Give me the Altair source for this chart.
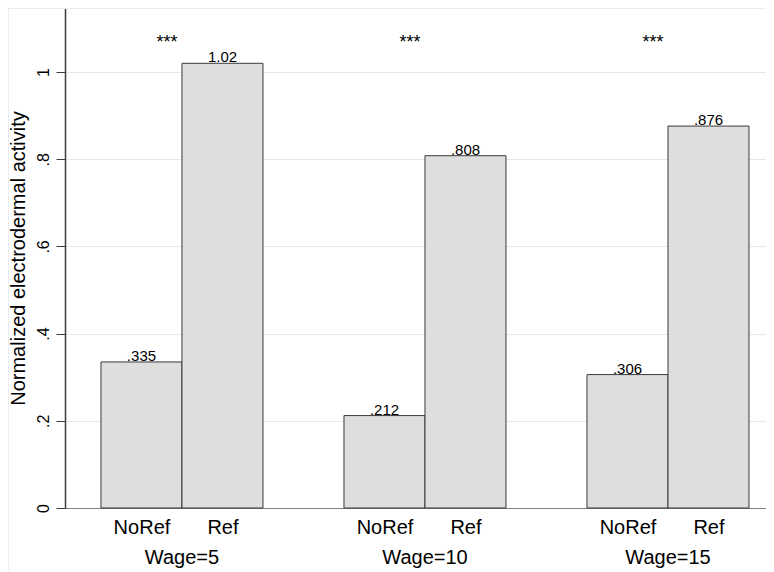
import altair as alt
import pandas as pd

# ---- data ----
groups = ["Wage=5", "Wage=10", "Wage=15"]
conditions = ["NoRef", "Ref"]
noref_values = [0.335, 0.212, 0.306]
ref_values = [1.02, 0.808, 0.876]
stars = ["***", "***", "***"]
y_ticks = [0, 0.2, 0.4, 0.6, 0.8, 1]
star_level = 1.055

# ---- tables built from the lists ----
rows = []
for g, gname in enumerate(groups):
    for s, (cond, vals) in enumerate(zip(conditions, [noref_values, ref_values])):
        pos = g * 3 + s
        rows.append(dict(group=gname, cond=cond, pos=pos, x0=pos - 0.5,
                         x1=pos + 0.5, value=vals[g]))
bars_df = pd.DataFrame(rows)
groups_df = pd.DataFrame(dict(group=groups,
                              gpos=[g * 3 + 0.5 for g in range(len(groups))],
                              stars=stars, level=[star_level] * len(groups)))
tick_positions = list(bars_df["pos"])

W, H = 701, 500
FONT = "Liberation Sans"
xscale = alt.Scale(domain=[-0.944, 7.71], nice=False, zero=False)
yscale = alt.Scale(domain=[0, 1.1468], nice=False, zero=True)

y_axis = alt.Axis(
    values=y_ticks,
    labelExpr="datum.value == 0 ? '0' : datum.value == 1 ? '1' : replace(format(datum.value, '.1f'), '0.', '.')",
    labelAngle=270, labelAlign="center", labelBaseline="bottom",
    labelFont=FONT, labelFontSize=16, labelColor="#000000", labelPadding=5,
    tickSize=9, tickColor="#3c3c3c", tickWidth=1,
    domainColor="#3c3c3c", domainWidth=1.5,
    grid=True, gridColor="#e3eaed", gridWidth=1,
    title="Normalized electrodermal activity", titleFont=FONT,
    titleFontSize=20, titleFontWeight="normal", titleColor="#000000",
    titleAngle=270, titleAlign="center", titleBaseline="middle",
    titleX=-47, titleY=250,
)

x_axis = alt.Axis(
    values=tick_positions,
    labelExpr="datum.value % 3 == 0 ? 'NoRef' : 'Ref'",
    labelOverlap=False, labelFlush=False,
    labelFont=FONT, labelFontSize=20, labelColor="#000000",
    labelBaseline="alphabetic", labelPadding=25,
    ticks=False, grid=False, title=None,
    domainColor="#808080", domainWidth=1,
)

frame = alt.Chart(groups_df).mark_rect(
    fill="transparent", stroke="#e6edf0", strokeWidth=1.5
).encode(
    x=alt.value(-57), x2=alt.value(W + 60),
    y=alt.value(0), y2=alt.value(H + 120),
)

bars = alt.Chart(bars_df).mark_bar(
    fill="#dedede", stroke="#3a3a3a", strokeWidth=1
).encode(
    x=alt.X("x0:Q", scale=xscale, axis=x_axis),
    x2="x1:Q",
    y=alt.Y("value:Q", scale=yscale, axis=y_axis),
    y2=alt.datum(0),
)

value_labels = alt.Chart(bars_df).transform_calculate(
    label="datum.value < 1 ? substring(format(datum.value, '.3~g'), 1) : format(datum.value, '.3~g')"
).mark_text(
    font=FONT, fontSize=15, color="#000000", baseline="alphabetic", dy=-1
).encode(
    x=alt.X("pos:Q", scale=xscale),
    y=alt.Y("value:Q", scale=yscale),
    text="label:N",
)

star_labels = alt.Chart(groups_df).mark_text(
    font=FONT, fontSize=18, color="#000000", baseline="alphabetic", dx=-15
).encode(
    x=alt.X("gpos:Q", scale=xscale),
    y=alt.Y("level:Q", scale=yscale),
    text="stars:N",
)

group_labels = alt.Chart(groups_df).mark_text(
    font=FONT, fontSize=20, color="#000000", baseline="alphabetic"
).encode(
    x=alt.X("gpos:Q", scale=xscale),
    y=alt.value(H + 56),
    text="group:N",
)

chart = alt.layer(frame, bars, value_labels, star_labels, group_labels).properties(
    width=W, height=H,
    autosize=alt.AutoSizeParams(type="none"),
    padding={"left": 57, "top": 0, "right": 0, "bottom": 62},
).configure_view(stroke=None).configure(background="white")

chart.save("out.html", embed_options={"renderer": "svg", "actions": False})
